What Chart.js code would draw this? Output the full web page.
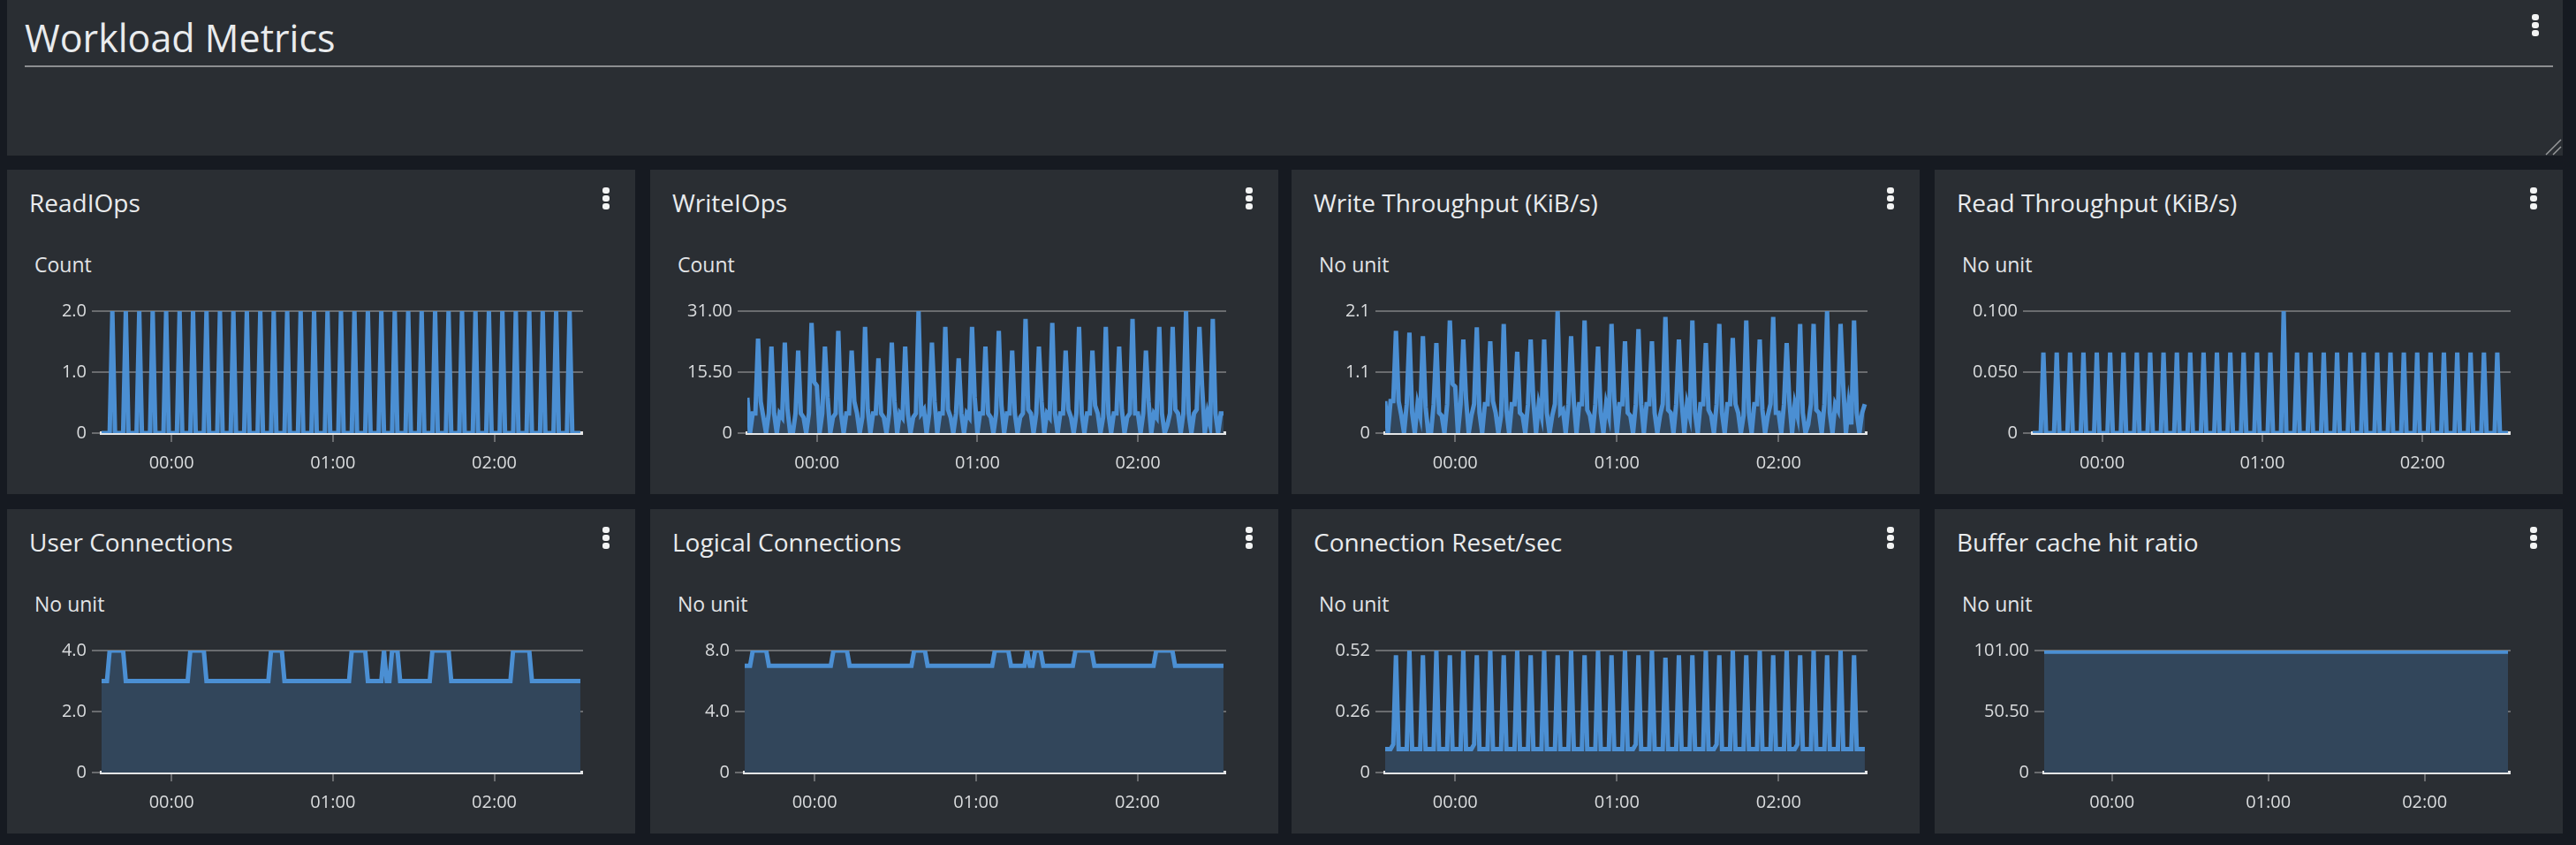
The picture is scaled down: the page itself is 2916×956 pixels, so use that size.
<!DOCTYPE html>
<html>
<head>
<meta charset="utf-8">
<title>Workload Metrics</title>
<script src="https://cdn.jsdelivr.net/npm/chart.js@4.4.1/dist/chart.umd.min.js"></script>
<style>
    html, body {
        margin: 0;
        padding: 0;
        width: 2916px;
        height: 956px;
        overflow: hidden;
        background: #161a21;
        font-family: 'Open Sans', sans-serif;
    }
    .panel {
        position: absolute;
        background: #2a2e33;
    }
    .header-title {
        position: absolute;
        left: 20px;
        top: 21px;
        font-size: 43px;
        line-height: 43px;
        color: #e9ebed;
    }
    .header-rule {
        position: absolute;
        left: 20px;
        top: 74px;
        width: 2862px;
        height: 2px;
        background: #8c8e90;
    }
    .widget-title {
        position: absolute;
        left: 25px;
        top: 23px;
        font-size: 28px;
        line-height: 28px;
        color: #e9ebed;
        white-space: nowrap;
    }
    .widget-unit {
        position: absolute;
        left: 31px;
        top: 96px;
        font-size: 23px;
        line-height: 23px;
        color: #e2e4e6;
        white-space: nowrap;
    }
    .kebab {
        position: absolute;
        width: 8px;
    }
    .kebab i {
        display: block;
        width: 8px;
        height: 7px;
        margin-bottom: 2px;
        border-radius: 3px;
        background: #f2f3f3;
    }
    .chart-box {
        position: absolute;
        left: 0;
        top: 140px;
        width: 652px;
        height: 204px;
    }
</style>
</head>
<body>
<div class="panel" id="header" style="left:8px;top:0;width:2893px;height:176px;">
    <div class="header-title">Workload Metrics</div>
    <div class="header-rule"></div>
    <div class="kebab" style="left:2858px;top:16px;"><i></i><i></i><i></i></div>
    <svg style="position:absolute;left:2872px;top:156px;" width="21" height="20">
        <line x1="2" y1="19" x2="19" y2="2" stroke="#9a9c9e" stroke-width="1.5"/>
        <line x1="10" y1="19" x2="19" y2="10" stroke="#9a9c9e" stroke-width="1.5"/>
    </svg>
</div>
<div id="widgets"></div>

<script>
// Sample times, minutes relative to 00:00 (1 minute period, 23:34 .. 02:32)
const minutes = [
    -26, -25, -24, -23, -22, -21, -20, -19, -18, -17,
    -16, -15, -14, -13, -12, -11, -10, -9, -8, -7,
    -6, -5, -4, -3, -2, -1, 0, 1, 2, 3,
    4, 5, 6, 7, 8, 9, 10, 11, 12, 13,
    14, 15, 16, 17, 18, 19, 20, 21, 22, 23,
    24, 25, 26, 27, 28, 29, 30, 31, 32, 33,
    34, 35, 36, 37, 38, 39, 40, 41, 42, 43,
    44, 45, 46, 47, 48, 49, 50, 51, 52, 53,
    54, 55, 56, 57, 58, 59, 60, 61, 62, 63,
    64, 65, 66, 67, 68, 69, 70, 71, 72, 73,
    74, 75, 76, 77, 78, 79, 80, 81, 82, 83,
    84, 85, 86, 87, 88, 89, 90, 91, 92, 93,
    94, 95, 96, 97, 98, 99, 100, 101, 102, 103,
    104, 105, 106, 107, 108, 109, 110, 111, 112, 113,
    114, 115, 116, 117, 118, 119, 120, 121, 122, 123,
    124, 125, 126, 127, 128, 129, 130, 131, 132, 133,
    134, 135, 136, 137, 138, 139, 140, 141, 142, 143,
    144, 145, 146, 147, 148, 149, 150, 151, 152
];

// X axis
const xMin = -26;
const xMax = 153;
const xTickMinutes = [0, 60, 120];
const xTickLabels = ['00:00', '01:00', '02:00'];

const readIOps = [
    0, 0, 0, 0, 2, 0, 0, 0, 0, 2,
    0, 0, 0, 0, 2, 0, 0, 0, 0, 2,
    0, 0, 0, 0, 2, 0, 0, 0, 0, 2,
    0, 0, 0, 0, 2, 0, 0, 0, 0, 2,
    0, 0, 0, 0, 2, 0, 0, 0, 0, 2,
    0, 0, 0, 0, 2, 0, 0, 0, 0, 2,
    0, 0, 0, 0, 2, 0, 0, 0, 0, 2,
    0, 0, 0, 0, 2, 0, 0, 0, 0, 2,
    0, 0, 0, 0, 2, 0, 0, 0, 0, 2,
    0, 0, 0, 0, 2, 0, 0, 0, 0, 2,
    0, 0, 0, 0, 2, 0, 0, 0, 0, 2,
    0, 0, 0, 0, 2, 0, 0, 0, 0, 2,
    0, 0, 0, 0, 2, 0, 0, 0, 0, 2,
    0, 0, 0, 0, 2, 0, 0, 0, 0, 2,
    0, 0, 0, 0, 2, 0, 0, 0, 0, 2,
    0, 0, 0, 0, 2, 0, 0, 0, 0, 2,
    0, 0, 0, 0, 2, 0, 0, 0, 0, 2,
    0, 0, 0, 0, 2, 0, 0, 0, 0
];

const writeIOps = [
    9, 0, 5, 5,
    24, 8, 4, 0, 5,
    22, 5, 0, 5, 4,
    23, 6, 0, 0, 5,
    21, 5, 4, 0, 5,
    28, 13, 12, 0, 5,
    22, 9, 0, 4, 5,
    26, 5, 0, 5, 5,
    21, 8, 5, 0, 4,
    27, 6, 0, 5, 5,
    19, 5, 4, 0, 5,
    23, 8, 0, 5, 4,
    22, 5, 0, 4, 5,
    31, 5, 6, 0, 5,
    23, 8, 0, 5, 5,
    27, 6, 4, 0, 5,
    19, 5, 0, 5, 4,
    27, 9, 0, 5, 5,
    22, 5, 4, 0, 5,
    26, 7, 0, 5, 5,
    21, 5, 0, 4, 5,
    29, 6, 5, 0, 5,
    22, 8, 0, 5, 4,
    28, 5, 0, 5, 5,
    21, 6, 4, 0, 5,
    27, 5, 0, 5, 5,
    21, 7, 5, 0, 4,
    27, 5, 0, 5, 5,
    22, 6, 0, 4, 5,
    29, 5, 5, 0, 5,
    21, 8, 0, 5, 4,
    27, 5, 0, 2, 5,
    27, 6, 5, 0, 5,
    31, 5, 0, 5, 6,
    27, 12, 0, 5, 2,
    29, 5, 0, 5, 5
];

const writeThroughput = [
    0.55, 0, 0.55, 0.55,
    1.76, 0.55, 0.3, 0, 0.5,
    1.73, 0.35, 0, 0.5, 0.3,
    1.67, 0.45, 0, 0, 0.5,
    1.55, 0.35, 0.3, 0, 0.5,
    1.94, 0.85, 0.8, 0, 0.5,
    1.61, 0.6, 0, 0.3, 0.5,
    1.82, 0.35, 0, 0.5, 0.5,
    1.58, 0.55, 0.35, 0, 0.3,
    1.88, 0.4, 0, 0.5, 0.5,
    1.40, 0.35, 0.3, 0, 0.5,
    1.61, 0.55, 0, 0.5, 0.3,
    1.61, 0.35, 0, 0.3, 0.5,
    2.10, 0.35, 0.4, 0, 0.5,
    1.67, 0.55, 0, 0.5, 0.5,
    1.94, 0.4, 0.3, 0, 0.5,
    1.49, 0.35, 0, 0.5, 0.3,
    1.88, 0.6, 0, 0.5, 0.5,
    1.58, 0.35, 0.3, 0, 0.5,
    1.79, 0.5, 0, 0.5, 0.5,
    1.58, 0.35, 0, 0.3, 0.5,
    2.00, 0.4, 0.35, 0, 0.5,
    1.61, 0.55, 0, 0.5, 0.3,
    1.94, 0.35, 0, 0.5, 0.5,
    1.55, 0.4, 0.3, 0, 0.5,
    1.88, 0.35, 0, 0.5, 0.5,
    1.64, 0.5, 0.35, 0, 0.3,
    1.94, 0.35, 0, 0.5, 0.5,
    1.61, 0.4, 0, 0.3, 0.5,
    2.00, 0.35, 0.35, 0, 0.5,
    1.55, 0.55, 0, 0.5, 0.3,
    1.88, 0.35, 0, 0.15, 0.5,
    1.88, 0.4, 0.35, 0, 0.5,
    2.10, 0.35, 0, 0.5, 0.4,
    1.88, 0.8, 0, 0.5, 0.15,
    1.94, 0.35, 0, 0.35, 0.5
];

const readThroughput = [
    0, 0, 0, 0, 0.066, 0, 0, 0, 0, 0.066,
    0, 0, 0, 0, 0.066, 0, 0, 0, 0, 0.066,
    0, 0, 0, 0, 0.066, 0, 0, 0, 0, 0.066,
    0, 0, 0, 0, 0.066, 0, 0, 0, 0, 0.066,
    0, 0, 0, 0, 0.066, 0, 0, 0, 0, 0.066,
    0, 0, 0, 0, 0.066, 0, 0, 0, 0, 0.066,
    0, 0, 0, 0, 0.066, 0, 0, 0, 0, 0.066,
    0, 0, 0, 0, 0.066, 0, 0, 0, 0, 0.066,
    0, 0, 0, 0, 0.066, 0, 0, 0, 0, 0.066,
    0, 0, 0, 0, 0.100, 0, 0, 0, 0, 0.066,
    0, 0, 0, 0, 0.066, 0, 0, 0, 0, 0.066,
    0, 0, 0, 0, 0.066, 0, 0, 0, 0, 0.066,
    0, 0, 0, 0, 0.066, 0, 0, 0, 0, 0.066,
    0, 0, 0, 0, 0.066, 0, 0, 0, 0, 0.066,
    0, 0, 0, 0, 0.066, 0, 0, 0, 0, 0.066,
    0, 0, 0, 0, 0.066, 0, 0, 0, 0, 0.066,
    0, 0, 0, 0, 0.066, 0, 0, 0, 0, 0.066,
    0, 0, 0, 0, 0.066, 0, 0, 0, 0
];

const userConnections = [
    3, 3, 3, 4, 4, 4, 4, 4, 4, 3,
    3, 3, 3, 3, 3, 3, 3, 3, 3, 3,
    3, 3, 3, 3, 3, 3, 3, 3, 3, 3,
    3, 3, 3, 4, 4, 4, 4, 4, 4, 3,
    3, 3, 3, 3, 3, 3, 3, 3, 3, 3,
    3, 3, 3, 3, 3, 3, 3, 3, 3, 3,
    3, 3, 3, 4, 4, 4, 4, 4, 3, 3,
    3, 3, 3, 3, 3, 3, 3, 3, 3, 3,
    3, 3, 3, 3, 3, 3, 3, 3, 3, 3,
    3, 3, 3, 4, 4, 4, 4, 4, 4, 3,
    3, 3, 3, 3, 3, 4, 3, 3, 4, 4,
    4, 3, 3, 3, 3, 3, 3, 3, 3, 3,
    3, 3, 3, 4, 4, 4, 4, 4, 4, 4,
    3, 3, 3, 3, 3, 3, 3, 3, 3, 3,
    3, 3, 3, 3, 3, 3, 3, 3, 3, 3,
    3, 3, 3, 4, 4, 4, 4, 4, 4, 4,
    3, 3, 3, 3, 3, 3, 3, 3, 3, 3,
    3, 3, 3, 3, 3, 3, 3, 3, 3
];

const logicalConnections = [
    7, 7, 7, 8, 8, 8, 8, 8, 8, 7,
    7, 7, 7, 7, 7, 7, 7, 7, 7, 7,
    7, 7, 7, 7, 7, 7, 7, 7, 7, 7,
    7, 7, 7, 8, 8, 8, 8, 8, 8, 7,
    7, 7, 7, 7, 7, 7, 7, 7, 7, 7,
    7, 7, 7, 7, 7, 7, 7, 7, 7, 7,
    7, 7, 7, 8, 8, 8, 8, 8, 7, 7,
    7, 7, 7, 7, 7, 7, 7, 7, 7, 7,
    7, 7, 7, 7, 7, 7, 7, 7, 7, 7,
    7, 7, 7, 8, 8, 8, 8, 8, 8, 7,
    7, 7, 7, 7, 7, 8, 7, 7, 8, 8,
    8, 7, 7, 7, 7, 7, 7, 7, 7, 7,
    7, 7, 7, 8, 8, 8, 8, 8, 8, 8,
    7, 7, 7, 7, 7, 7, 7, 7, 7, 7,
    7, 7, 7, 7, 7, 7, 7, 7, 7, 7,
    7, 7, 7, 8, 8, 8, 8, 8, 8, 8,
    7, 7, 7, 7, 7, 7, 7, 7, 7, 7,
    7, 7, 7, 7, 7, 7, 7, 7, 7
];

const connectionResets = [
    0.1, 0.1, 0.1, 0.12, 0.50, 0.1, 0.1, 0.1, 0.1, 0.52,
    0.1, 0.1, 0.1, 0.1, 0.50, 0.1, 0.1, 0.1, 0.1, 0.52,
    0.1, 0.1, 0.1, 0.1, 0.50, 0.1, 0.1, 0.1, 0.1, 0.52,
    0.1, 0.1, 0.1, 0.12, 0.50, 0.1, 0.1, 0.1, 0.1, 0.52,
    0.1, 0.1, 0.1, 0.1, 0.50, 0.1, 0.1, 0.1, 0.1, 0.52,
    0.1, 0.1, 0.1, 0.1, 0.50, 0.1, 0.1, 0.1, 0.1, 0.52,
    0.1, 0.1, 0.1, 0.1, 0.50, 0.1, 0.1, 0.1, 0.1, 0.52,
    0.1, 0.1, 0.1, 0.1, 0.50, 0.1, 0.1, 0.1, 0.1, 0.52,
    0.1, 0.1, 0.1, 0.1, 0.50, 0.1, 0.1, 0.1, 0.1, 0.52,
    0.1, 0.1, 0.1, 0.12, 0.50, 0.1, 0.1, 0.1, 0.1, 0.52,
    0.1, 0.1, 0.1, 0.1, 0.49, 0.1, 0.1, 0.1, 0.1, 0.50,
    0.1, 0.1, 0.1, 0.1, 0.50, 0.1, 0.1, 0.1, 0.1, 0.52,
    0.1, 0.1, 0.1, 0.12, 0.50, 0.1, 0.1, 0.1, 0.1, 0.52,
    0.1, 0.1, 0.1, 0.1, 0.50, 0.1, 0.1, 0.1, 0.1, 0.52,
    0.1, 0.1, 0.1, 0.1, 0.50, 0.1, 0.1, 0.1, 0.1, 0.52,
    0.1, 0.1, 0.1, 0.12, 0.50, 0.1, 0.1, 0.1, 0.1, 0.52,
    0.1, 0.1, 0.1, 0.1, 0.50, 0.1, 0.1, 0.1, 0.1, 0.52,
    0.1, 0.1, 0.1, 0.1, 0.50, 0.1, 0.1, 0.1, 0.1
];

const bufferCacheHitRatio = [
    100, 100, 100, 100, 100, 100, 100, 100, 100, 100,
    100, 100, 100, 100, 100, 100, 100, 100, 100, 100,
    100, 100, 100, 100, 100, 100, 100, 100, 100, 100,
    100, 100, 100, 100, 100, 100, 100, 100, 100, 100,
    100, 100, 100, 100, 100, 100, 100, 100, 100, 100,
    100, 100, 100, 100, 100, 100, 100, 100, 100, 100,
    100, 100, 100, 100, 100, 100, 100, 100, 100, 100,
    100, 100, 100, 100, 100, 100, 100, 100, 100, 100,
    100, 100, 100, 100, 100, 100, 100, 100, 100, 100,
    100, 100, 100, 100, 100, 100, 100, 100, 100, 100,
    100, 100, 100, 100, 100, 100, 100, 100, 100, 100,
    100, 100, 100, 100, 100, 100, 100, 100, 100, 100,
    100, 100, 100, 100, 100, 100, 100, 100, 100, 100,
    100, 100, 100, 100, 100, 100, 100, 100, 100, 100,
    100, 100, 100, 100, 100, 100, 100, 100, 100, 100,
    100, 100, 100, 100, 100, 100, 100, 100, 100, 100,
    100, 100, 100, 100, 100, 100, 100, 100, 100, 100,
    100, 100, 100, 100, 100, 100, 100, 100, 100
];

// Widget titles, units and y axis ticks (same order as the grid)
const widgetTitles = [
    'ReadIOps', 'WriteIOps', 'Write Throughput (KiB/s)', 'Read Throughput (KiB/s)',
    'User Connections', 'Logical Connections', 'Connection Reset/sec', 'Buffer cache hit ratio'
];
const widgetUnits = ['Count', 'Count', 'No unit', 'No unit', 'No unit', 'No unit', 'No unit', 'No unit'];
const widgetSeries = [
    readIOps, writeIOps, writeThroughput, readThroughput,
    userConnections, logicalConnections, connectionResets, bufferCacheHitRatio
];
const yTickValues = [
    [0, 1, 2], [0, 15.5, 31], [0, 1.05, 2.1], [0, 0.05, 0.1],
    [0, 2, 4], [0, 4, 8], [0, 0.26, 0.52], [0, 50.5, 101]
];
const yTickLabels = [
    ['0', '1.0', '2.0'], ['0', '15.50', '31.00'], ['0', '1.1', '2.1'], ['0', '0.050', '0.100'],
    ['0', '2.0', '4.0'], ['0', '4.0', '8.0'], ['0', '0.26', '0.52'], ['0', '50.50', '101.00']
];

// Layout (pixels)
const columnLeft = [8, 736, 1462, 2190];
const rowTop = [192, 576];
const panelWidth = 711;
const panelHeight = 367;
const plotLeft = [107, 110, 106, 111, 107, 107, 106, 124];

const LINE_BLUE = '#4b8fd3';
// area colour is opaque so the grid lines disappear behind it, as in the console
const AREA_BLUE = '#32465b';
const GRID_GREY = '#6a6c6f';
const AXIS_WHITE = '#e4e5e6';
const TICK_TEXT = '#dadcde';

Chart.defaults.font.family = "'Open Sans', sans-serif";

/**
 * Builds one dashboard widget with its line chart
 * @param {number} i - widget index
 */
function createWidget(i) {
    const panel = document.createElement('div');
    panel.className = 'panel';
    panel.style.left = columnLeft[i % 4] + 'px';
    panel.style.top = rowTop[Math.floor(i / 4)] + 'px';
    panel.style.width = panelWidth + 'px';
    panel.style.height = panelHeight + 'px';
    panel.innerHTML =
        '<div class="widget-title">' + widgetTitles[i] + '</div>' +
        '<div class="kebab" style="left:674px;top:20px;"><i></i><i></i><i></i></div>' +
        '<div class="widget-unit">' + widgetUnits[i] + '</div>' +
        '<div class="chart-box"><canvas></canvas></div>';
    document.getElementById('widgets').appendChild(panel);

    const ticks = yTickValues[i];
    const labels = yTickLabels[i];

    return new Chart(panel.querySelector('canvas'), {
        type: 'line',
        data: {
            labels: minutes,
            datasets: [{
                data: widgetSeries[i],
                borderColor: LINE_BLUE,
                backgroundColor: AREA_BLUE,
                borderWidth: 5,
                pointRadius: 0,
                tension: 0,
                fill: 'origin'
            }]
        },
        options: {
            responsive: true,
            maintainAspectRatio: false,
            animation: false,
            layout: { padding: { top: 20, right: 0, bottom: 0, left: 0 } },
            plugins: {
                legend: { display: false },
                tooltip: { enabled: false }
            },
            scales: {
                x: {
                    type: 'linear',
                    min: xMin,
                    max: xMax,
                    afterBuildTicks: (scale) => {
                        scale.ticks = xTickMinutes.map(v => ({ value: v }));
                    },
                    afterFit: (scale) => { scale.height = 46; },
                    grid: {
                        drawOnChartArea: false,
                        color: GRID_GREY,
                        lineWidth: 2,
                        tickLength: 10
                    },
                    border: { display: true, color: AXIS_WHITE, width: 4 },
                    ticks: {
                        autoSkip: false,
                        maxRotation: 0,
                        padding: 12,
                        color: TICK_TEXT,
                        font: { size: 20 },
                        callback: (value) => xTickLabels[xTickMinutes.indexOf(value)]
                    }
                },
                y: {
                    min: 0,
                    max: ticks[ticks.length - 1],
                    afterBuildTicks: (scale) => {
                        scale.ticks = ticks.map(v => ({ value: v }));
                    },
                    afterFit: (scale) => { scale.width = plotLeft[i]; },
                    grid: {
                        color: GRID_GREY,
                        lineWidth: 2,
                        tickLength: 11
                    },
                    border: { display: false },
                    ticks: {
                        padding: 6,
                        color: TICK_TEXT,
                        font: { size: 20 },
                        callback: (value, index) => labels[index]
                    }
                }
            }
        }
    });
}

const charts = widgetTitles.map((title, i) => createWidget(i));
</script>
</body>
</html>
